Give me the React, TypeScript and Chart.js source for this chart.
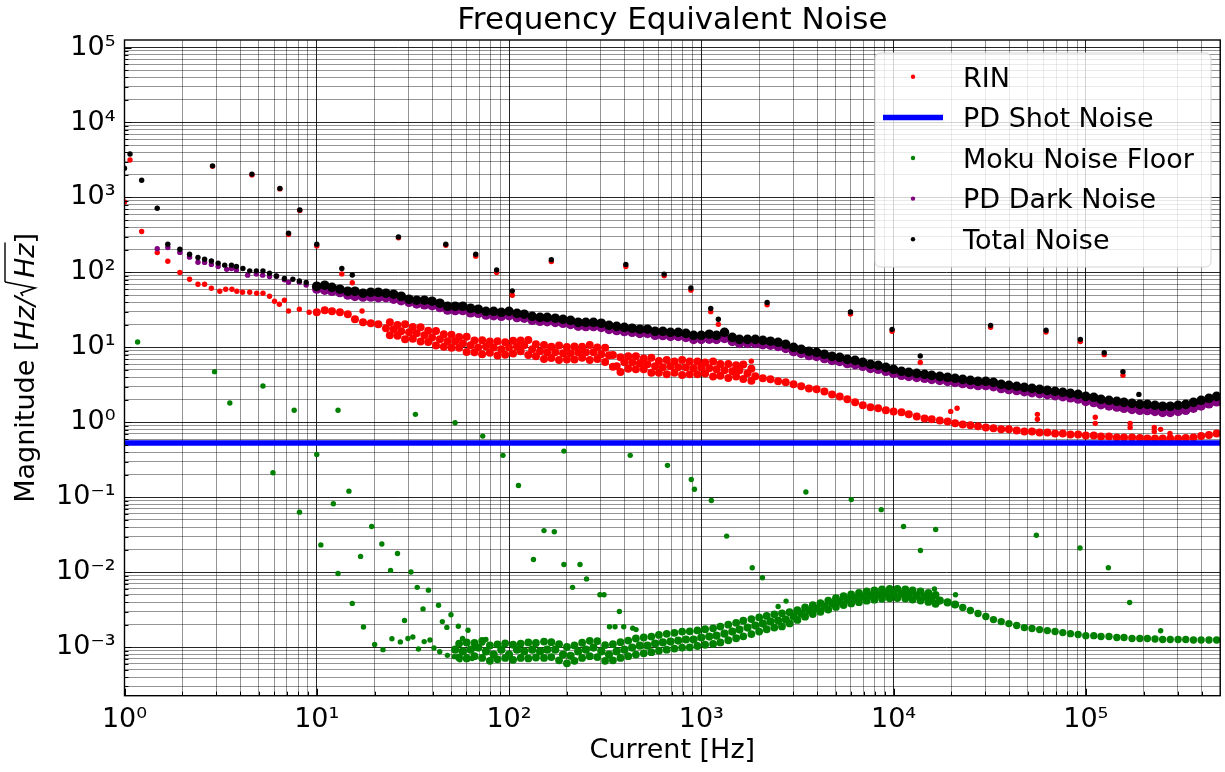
import React, { useEffect, useRef } from 'react';
import { Chart, registerables } from 'chart.js';

Chart.register(...registerables);

const W = 1225;
const H = 772;

const TITLE = 'Frequency Equivalent Noise';
const X_LABEL = 'Current [Hz]';
const LEGEND_LABELS = ['RIN', 'PD Shot Noise', 'Moku Noise Floor', 'PD Dark Noise', 'Total Noise'];

const xDecades = [1, 10, 100, 1000, 10000, 100000];
const xTickLabels = ['10⁰', '10¹', '10²', '10³', '10⁴', '10⁵'];
const yDecades = [0.001, 0.01, 0.1, 1, 10, 100, 1000, 10000, 100000];
const yTickLabels = ['10⁻³', '10⁻²', '10⁻¹', '10⁰', '10¹', '10²', '10³', '10⁴', '10⁵'];

// frequency grid of the dense part of the spectra [Hz]
const bandX = [
  10, 11, 12, 13.2, 14.5, 15.8, 17.4, 19.1, 20.9, 22.9, 25.1, 27.5, 30.2, 33.1, 36.3, 39.8, 43.7, 47.9, 52.5, 57.5, 63.1, 69.2, 75.9, 83.2, 91.2,
  100, 110, 120, 132, 145, 158, 174, 191, 209, 229, 251, 275, 302, 331, 363, 398, 437, 479, 525, 575, 631, 692, 759, 832, 912,
  1000, 1100, 1200, 1320, 1450, 1580, 1740, 1910, 2090, 2290, 2510, 2750, 3020, 3310, 3630, 3980, 4370, 4790, 5250, 5750, 6310, 6920, 7590, 8320, 9120,
  10000, 11000, 12000, 13200, 14500, 15800, 17400, 19100, 20900, 22900, 25100, 27500, 30200, 33100, 36300, 39800, 43700, 47900, 52500, 57500, 63100, 69200, 75900, 83200, 91200,
  100000, 110000, 120000, 132000, 145000, 158000, 174000, 191000, 209000, 229000, 251000, 275000, 302000, 331000, 363000, 398000, 437000, 479000,
];

// Total noise
const totalLowX = [1.0, 1.068, 1.228, 1.48, 1.68, 1.94, 2.18, 2.41, 2.61, 2.83, 3.07, 3.32, 3.6, 3.82, 4.13, 4.48, 4.85, 5.25, 5.68, 6.16, 6.79, 7.51, 8.12, 8.81];
const totalLowY = [2450, 3800, 1700, 718, 238, 204, 175, 158, 150, 142, 133, 125, 125, 120, 113, 105, 105, 105, 97.6, 89.8, 83.0, 81.1, 77.1, 73.3];
const totalBandY = [
  65.4, 67.5, 63.3, 59.7, 56.1, 56.1, 52.8, 54.4, 54.4, 52.8, 51.2, 48.1, 43.9, 42.6, 42.6, 41.3, 38.8, 35.4, 35.4, 35.4, 33.3, 32.3, 30.3, 30.3, 29.4,
  30.3, 28.5, 27.7, 26.0, 25.2, 25.2, 24.5, 23.7, 23.0, 21.6, 21.6, 21.6, 21.0, 19.7, 19.1, 18.5, 18.0, 17.5, 17.5, 16.4, 16.4, 15.9, 15.9, 15.4, 14.5,
  14.5, 15.0, 14.5, 15.9, 13.6, 12.8, 12.8, 12.8, 12.4, 12.1, 11.7, 11.0, 10.0, 9.44, 8.87, 8.61, 8.09, 7.6, 7.38, 6.93, 6.72, 6.32, 5.95, 5.77, 5.42,
  5.1, 4.8, 4.65, 4.51, 4.38, 4.24, 4.11, 3.99, 3.87, 3.75, 3.64, 3.53, 3.53, 3.42, 3.22, 3.12, 3.03, 2.93, 2.84, 2.76, 2.67, 2.59, 2.52, 2.44, 2.36,
  2.22, 2.16, 2.03, 1.97, 1.91, 1.85, 1.79, 1.74, 1.74, 1.69, 1.64, 1.64, 1.69, 1.74, 1.85, 1.97, 2.09, 2.22,
];
const totalOutX = [2.87, 4.6, 6.43, 7.13, 8.16, 10.0, 13.5, 15.3, 26.6, 46.9, 67.1, 86.2, 104, 166, 405, 641, 883, 1120, 1227, 1330, 2200, 5970, 9830, 13770, 31970, 62100, 93660, 124700, 156000, 188800];
const totalOutY = [2640, 2050, 1320, 334, 682, 238, 113, 92.3, 298, 238, 175, 108, 56.8, 148, 128, 95, 62, 33, 23.7, 16.6, 39.7, 29.6, 17.4, 7.7, 19.7, 16.9, 12.8, 8.5, 4.75, 2.36];

// PD dark noise
const darkLowX = [1.48, 1.68, 1.94, 2.18, 2.41, 2.61, 2.83, 3.07, 3.4, 3.6, 3.82, 4.37, 4.85, 5.23, 5.68, 6.18, 6.79, 7.13, 8.12, 8.81];
const darkLowY = [207, 215, 185, 160, 137, 136, 128, 120, 110, 113, 108, 92, 95, 92, 88, 89, 80, 74, 74, 68];
const darkBandY = [
  60, 58, 56, 54, 50, 48, 47, 47, 46, 46, 44, 42, 40, 38, 37, 36, 34, 31.5, 31, 31, 29, 28.5, 27, 26.5, 26,
  26.5, 25, 24.5, 23, 22.3, 22, 21.5, 21, 20.3, 19.2, 19, 19, 18.5, 17.4, 16.8, 16.3, 15.9, 15.4, 15.4, 14.5, 14.4, 14, 14, 13.6, 12.8,
  12.8, 12.9, 12.8, 13.2, 12, 11.3, 11.3, 11.3, 10.9, 10.7, 10.3, 9.7, 8.8, 8.3, 7.8, 7.6, 7.1, 6.7, 6.5, 6.1, 5.9, 5.6, 5.25, 5.1, 4.8,
  4.5, 4.25, 4.1, 3.98, 3.87, 3.75, 3.63, 3.52, 3.42, 3.3, 3.2, 3.1, 3.1, 3.0, 2.83, 2.74, 2.66, 2.57, 2.49, 2.42, 2.34, 2.27, 2.2, 2.13, 2.05,
  1.9, 1.84, 1.72, 1.66, 1.6, 1.54, 1.49, 1.45, 1.44, 1.4, 1.36, 1.36, 1.4, 1.45, 1.55, 1.66, 1.77, 1.88,
];

// RIN
const rinLowX = [1.0, 1.068, 1.228, 1.48, 1.68, 1.94, 2.18, 2.41, 2.61, 2.83, 3.13, 3.36, 3.62, 3.84, 4.11, 4.48, 4.87, 5.25, 5.68, 6.03, 6.39, 6.79, 7.13, 8.12, 9.13];
const rinLowY = [870, 3160, 352, 184, 141, 100, 81.1, 69.6, 69.6, 61.5, 56.1, 59.7, 59.7, 56.1, 54.4, 54.4, 52.8, 52.8, 48.1, 41.3, 37.6, 42.6, 30.6, 32.3, 29.4];
const rinBandY = [
  29.4, 31.3, 30.3, 29.4, 27.7, 23.7, 21.6, 21.0, 20.3, 18.0, 17.5, 16.4, 15.9, 15.4, 14.5, 13.6, 12.8, 12.1, 12.1, 11.3, 10.7, 10.0, 10.3, 10.0, 9.44,
  10.0, 10.3, 10.7, 9.44, 8.87, 8.61, 8.61, 8.34, 8.34, 8.61, 8.61, 8.61, 8.09, 7.85, 5.59, 6.32, 6.32, 6.13, 5.95, 5.59, 5.42, 5.59, 5.42, 5.42, 5.26,
  5.42, 5.26, 5.1, 4.95, 4.8, 4.95, 4.51, 4.11, 3.87, 3.75, 3.53, 3.42, 3.22, 3.03, 2.84, 2.76, 2.59, 2.36, 2.22, 2.03, 1.85, 1.69, 1.59, 1.54, 1.45,
  1.4, 1.36, 1.28, 1.2, 1.13, 1.1, 1.06, 1.03, 0.97, 0.94, 0.912, 0.885, 0.857, 0.832, 0.807, 0.807, 0.782, 0.758, 0.758, 0.735, 0.735, 0.713, 0.713, 0.691, 0.691,
  0.67, 0.67, 0.65, 0.65, 0.63, 0.63, 0.63, 0.62, 0.611, 0.611, 0.611, 0.611, 0.611, 0.62, 0.63, 0.66, 0.68, 0.713,
];
// upper / lower edge of the noisy RIN band (frequencies between the grid points)
const rinNoiseX = [
  24.0, 26.3, 28.8, 31.6, 34.7, 38.0, 41.7, 45.8, 50.2, 55.0, 60.2, 66.1, 72.5, 79.5, 87.1, 95.5,
  105, 115, 126, 138, 152, 166, 182, 200, 219, 240, 263, 288, 316, 347, 380, 417, 457, 502, 550, 602, 661, 725, 795, 871, 955,
  1047, 1152, 1257, 1382, 1518, 1654, 1822,
];
const rinNoiseHiY = [
  21.6, 19.9, 20.3, 18.7, 18.5, 16.7, 16.5, 15.0, 14.8, 13.8, 13.9, 12.4, 12.5, 12.0, 12.1, 11.7,
  12.3, 12.4, 12.6, 11.0, 10.8, 10.2, 10.6, 10.1, 10.3, 10.2, 10.8, 10.0, 9.9, 7.9, 7.4, 7.6, 7.6, 7.1, 7.3, 6.6, 6.8, 6.5, 6.8, 6.5, 6.5,
  6.3, 6.5, 6.0, 6.0, 5.8, 5.9, 5.2,
];
const rinNoiseLoY = [
  14.5, 14.3, 12.8, 13.0, 12.0, 11.8, 10.6, 10.2, 9.9, 9.9, 8.7, 8.6, 8.1, 8.5, 7.8, 8.0,
  8.3, 8.9, 7.9, 7.6, 7.0, 7.2, 6.8, 6.9, 6.9, 7.3, 6.8, 7.0, 6.4, 5.5, 4.7, 5.2, 5.1, 5.1, 4.6, 4.6, 4.4, 4.6, 4.3, 4.4, 4.4,
  4.5, 4.1, 4.2, 3.9, 4.1, 3.8, 3.6,
];
const rinOutX = [2.87, 4.6, 6.43, 7.13, 8.16, 10.0, 13.5, 15.3, 17.2, 26.6, 46.9, 67.1, 86.2, 104, 166, 405, 641, 883, 1120, 1227, 1820, 2200, 5970, 9830, 13770, 19830, 21400, 31970, 56000, 56000, 62100, 93660, 112000, 112000, 124700, 156000, 170000, 170000, 227000, 227000, 245000, 274000];
const rinOutY = [2600, 2000, 1300, 320, 670, 226, 95.6, 73, 30.6, 290, 230, 165, 100, 49.6, 140, 120, 90, 58, 30, 20.3, 6.56, 37, 28, 16.4, 6.3, 1.4, 1.54, 18.5, 1.28, 1.1, 16, 12, 1.17, 0.97, 8, 4.24, 0.97, 0.857, 0.857, 0.758, 0.807, 0.713];

// Moku noise floor, band on bandX[18..]
const mokuBandY = [
  0.00093, 0.00088, 0.00093, 0.00099, 0.00088, 0.0008, 0.00093,
  0.0008, 0.00093, 0.00088, 0.00093, 0.00088, 0.00093, 0.00093, 0.0008, 0.00077, 0.00088, 0.00093, 0.00099, 0.00088, 0.0008, 0.00088, 0.00093, 0.00099, 0.00105, 0.00105, 0.00112, 0.00116, 0.00119, 0.00123, 0.00127, 0.00127,
  0.00135, 0.00139, 0.00143, 0.00152, 0.00162, 0.00172, 0.00183, 0.00195, 0.00207, 0.0022, 0.00227, 0.00234, 0.00257, 0.00282, 0.00309, 0.00329, 0.00349, 0.00383, 0.00407, 0.00434, 0.00447, 0.00475, 0.0049, 0.00506, 0.00521,
  0.00521, 0.00521, 0.00506, 0.0049, 0.00475, 0.00447, 0.0042, 0.00396, 0.00372, 0.00339, 0.00309, 0.00282, 0.00257, 0.00234, 0.0022, 0.00207, 0.00195, 0.00183, 0.00178, 0.00172, 0.00167, 0.00162, 0.00157, 0.00152, 0.00148,
  0.00143, 0.00143, 0.00139, 0.00139, 0.00135, 0.00135, 0.00131, 0.00131, 0.00131, 0.00129, 0.00127, 0.00127, 0.00127, 0.00127, 0.00125, 0.00125, 0.00125, 0.00125,
];
// upper / lower edge of the Moku band (frequencies between the grid points)
const mokuNoiseX = [
  55.0, 60.2, 66.1, 72.5, 79.5, 87.1, 95.5,
  105, 115, 126, 138, 152, 166, 182, 200, 219, 240, 263, 288, 316, 347, 380, 417, 457, 502, 550, 602, 661, 725, 795, 871, 955,
  1047, 1152, 1257, 1382, 1518, 1654, 1822, 2000, 2188, 2398, 2628, 2879, 3162, 3466, 3801, 4167, 4575, 5015, 5497, 6020, 6607, 7245, 7947, 8711, 9549,
  10470, 11520, 12560, 13820, 15180, 16540,
];
const mokuNoiseHiY = [
  0.00112, 0.00116, 0.00114, 0.00122, 0.00106, 0.00109, 0.00113,
  0.00108, 0.00112, 0.00116, 0.00114, 0.00119, 0.00117, 0.0011, 0.00101, 0.00106, 0.00115, 0.00122, 0.00121, 0.00107, 0.0011, 0.00117, 0.00123, 0.00131, 0.00135, 0.00139, 0.00146, 0.00151, 0.00156, 0.00162, 0.00163, 0.00168,
  0.00174, 0.00179, 0.00189, 0.002, 0.00212, 0.00226, 0.00238, 0.0025, 0.00262, 0.00275, 0.00284, 0.00294, 0.00312, 0.0034, 0.00366, 0.00389, 0.0042, 0.00452, 0.00482, 0.00508, 0.0053, 0.00555, 0.00575, 0.00592, 0.006,
  0.00602, 0.00592, 0.00575, 0.00556, 0.00532, 0.005,
];
const mokuNoiseLoY = [
  0.00073, 0.00071, 0.00076, 0.00072, 0.00066, 0.00069, 0.00072,
  0.00068, 0.00072, 0.00071, 0.00073, 0.00072, 0.00074, 0.00067, 0.00061, 0.00066, 0.00072, 0.00076, 0.00074, 0.00066, 0.00067, 0.00072, 0.00076, 0.0008, 0.00083, 0.00086, 0.0009, 0.00093, 0.00096, 0.00099, 0.001, 0.00104,
  0.00108, 0.00111, 0.00116, 0.00124, 0.00132, 0.0014, 0.0015, 0.00162, 0.00174, 0.00183, 0.0019, 0.00208, 0.00232, 0.00256, 0.00278, 0.00297, 0.00318, 0.00345, 0.00366, 0.00384, 0.004, 0.00418, 0.00432, 0.00445, 0.00452,
  0.00454, 0.00447, 0.00434, 0.00421, 0.00403, 0.0038,
];
const mokuScatterX = [1.17, 2.94, 3.53, 5.25, 5.92, 7.63, 8.13, 10.0, 10.5, 12.2, 12.9, 12.9, 14.7, 15.3, 16.9, 17.5, 19.3, 20.0, 21.8, 22.1, 24.2, 24.6, 26.3, 27.2, 28.6, 29.8, 30.9, 31.6, 32.6, 33.3, 33.8, 35.7, 36.2, 38.1, 38.8, 40.7, 43.0, 43.6, 45.0, 47.5, 47.8, 49.9, 51.9, 52.4, 54.5, 55.5, 57.3, 60.6, 61.2, 64.3, 66.8, 72.8, 73.0, 75.8, 93, 112, 134, 152, 172, 193, 193, 214, 234, 253, 297, 312, 333, 356, 375, 395, 427, 440, 458, 667, 887, 921, 1128, 1355, 1841, 2080, 2510, 2760, 3500, 6030, 8630, 11270, 13800, 16320, 16560, 21000, 55300, 93300, 131000, 169000, 245000];
const mokuScatterY = [11.8, 4.75, 1.81, 3.05, 0.2125, 1.45, 0.0635, 0.374, 0.0232, 0.082, 1.45, 0.00963, 0.121, 0.00385, 0.0163, 0.00186, 0.0408, 0.00109, 0.0239, 0.00093, 0.0106, 0.0013, 0.0178, 0.00118, 0.00228, 0.00131, 0.0101, 0.00137, 1.28, 0.0063, 0.00095, 0.00325, 0.00119, 0.00578, 0.00125, 0.00098, 0.00364, 0.00087, 0.0022, 0.00184, 0.00078, 0.00272, 0.00075, 0.99, 0.00191, 0.00068, 0.00131, 0.00075, 0.00169, 0.00071, 0.00098, 0.00114, 0.656, 0.00127, 0.363, 0.144, 0.0148, 0.036, 0.0347, 0.414, 0.0127, 0.0063, 0.0127, 0.00817, 0.00503, 0.00503, 0.00188, 0.00188, 0.003, 0.00188, 0.363, 0.0018, 0.00172, 0.267, 0.173, 0.128, 0.0907, 0.0304, 0.0115, 0.00845, 0.0035, 0.00413, 0.1176, 0.0933, 0.0685, 0.0408, 0.0195, 0.00601, 0.0372, 0.00503, 0.0312, 0.0211, 0.0115, 0.00395, 0.00166];

// PD shot noise (flat)
const shotX = [1, 500000];
const shotY = [0.53, 0.53];

const COLORS = { rin: '#ff0000', shot: '#0000ff', moku: '#008000', dark: '#800080', total: '#000000' };

const pts = (xs: number[], ys: number[]) => xs.map((x, i) => ({ x, y: ys[i] }));
const sizes = (n: number, r: number) => new Array(n).fill(r);

const isDecade = (v: number) => {
  const l = Math.log10(v);
  return Math.abs(l - Math.round(l)) < 1e-6;
};

const logTicks = (lo: number, hi: number) => {
  const out: { value: number }[] = [];
  for (let e = Math.floor(Math.log10(lo)); e <= Math.ceil(Math.log10(hi)); e++) {
    for (let m = 1; m <= 9; m++) {
      const v = m * Math.pow(10, e);
      if (v >= lo * 0.9999 && v <= hi * 1.0001) out.push({ value: v });
    }
  }
  return out;
};

const labelFrom = (decades: number[], labels: string[]) => (v: number) => {
  for (let i = 0; i < decades.length; i++) {
    if (Math.abs(v / decades[i] - 1) < 1e-6) return labels[i];
  }
  return '';
};

const FONT = '"DejaVu Sans", "Liberation Sans", sans-serif';
const MAJOR_GRID = 'rgba(0,0,0,0.85)';
const MINOR_GRID = 'rgba(0,0,0,0.42)';

const decorPlugin = {
  id: 'decor',
  beforeDraw(chart: any) {
    const ctx = chart.ctx;
    ctx.save();
    ctx.fillStyle = '#ffffff';
    ctx.fillRect(0, 0, chart.width, chart.height);
    ctx.restore();
  },
  afterDraw(chart: any) {
    const ctx = chart.ctx as CanvasRenderingContext2D;
    const a = chart.chartArea;
    const xs = chart.scales.x;
    const ys = chart.scales.y;
    ctx.save();

    // inward ticks
    ctx.strokeStyle = '#000';
    ctx.lineWidth = 1;
    xs.ticks.forEach((t: any) => {
      const px = Math.round(xs.getPixelForValue(t.value)) + 0.5;
      const len = isDecade(t.value) ? 7 : 4;
      ctx.beginPath();
      ctx.moveTo(px, a.bottom);
      ctx.lineTo(px, a.bottom - len);
      ctx.stroke();
    });
    ys.ticks.forEach((t: any) => {
      const py = Math.round(ys.getPixelForValue(t.value)) + 0.5;
      const len = isDecade(t.value) ? 7 : 4;
      ctx.beginPath();
      ctx.moveTo(a.left, py);
      ctx.lineTo(a.left + len, py);
      ctx.stroke();
    });

    // frame
    ctx.lineWidth = 1.4;
    ctx.strokeRect(a.left, a.top, a.right - a.left, a.bottom - a.top);

    // title
    ctx.fillStyle = '#000';
    ctx.textAlign = 'center';
    ctx.textBaseline = 'alphabetic';
    ctx.font = `31px ${FONT}`;
    ctx.fillText(TITLE, (a.left + a.right) / 2, 29);

    // x label
    ctx.font = `27px ${FONT}`;
    ctx.fillText(X_LABEL, (a.left + a.right) / 2, 758);

    // y label: Magnitude [Hz/sqrt(Hz)]
    const reg = `27px ${FONT}`;
    const ita = `italic 27px ${FONT}`;
    const parts: { t: string; f: string; kind?: string }[] = [
      { t: 'Magnitude [', f: reg },
      { t: 'Hz/', f: ita },
      { t: '', f: reg, kind: 'sqrt' },
      { t: 'Hz', f: ita, kind: 'over' },
      { t: ']', f: reg },
    ];
    const radW = 19;
    let total = 0;
    const widths = parts.map((p) => {
      ctx.font = p.f;
      const w = p.kind === 'sqrt' ? radW : ctx.measureText(p.t).width;
      total += w;
      return w;
    });
    ctx.save();
    ctx.translate(34, (a.top + a.bottom) / 2);
    ctx.rotate(-Math.PI / 2);
    ctx.textAlign = 'left';
    let cx = -total / 2;
    let overStart = 0;
    parts.forEach((p, i) => {
      ctx.font = p.f;
      if (p.kind === 'sqrt') {
        overStart = cx + 15;
        ctx.lineWidth = 1.6;
        ctx.beginPath();
        ctx.moveTo(cx + 1, -11);
        ctx.lineTo(cx + 4, -13);
        ctx.lineTo(cx + 9, 1);
        ctx.lineTo(cx + 15, -29);
        ctx.stroke();
      } else {
        ctx.fillText(p.t, cx, 0);
      }
      if (p.kind === 'over') {
        ctx.lineWidth = 1.4;
        ctx.beginPath();
        ctx.moveTo(overStart, -29);
        ctx.lineTo(cx + widths[i] + 1, -29);
        ctx.stroke();
      }
      cx += widths[i];
    });
    ctx.restore();

    // legend
    const bx = 875, by = 53, bw = 336, bh = 214, r = 6;
    ctx.beginPath();
    ctx.moveTo(bx + r, by);
    ctx.lineTo(bx + bw - r, by);
    ctx.quadraticCurveTo(bx + bw, by, bx + bw, by + r);
    ctx.lineTo(bx + bw, by + bh - r);
    ctx.quadraticCurveTo(bx + bw, by + bh, bx + bw - r, by + bh);
    ctx.lineTo(bx + r, by + bh);
    ctx.quadraticCurveTo(bx, by + bh, bx, by + bh - r);
    ctx.lineTo(bx, by + r);
    ctx.quadraticCurveTo(bx, by, bx + r, by);
    ctx.closePath();
    ctx.fillStyle = 'rgba(255,255,255,0.8)';
    ctx.fill();
    ctx.strokeStyle = '#d4d4d4';
    ctx.lineWidth = 1;
    ctx.stroke();

    const legendColors = [COLORS.rin, COLORS.shot, COLORS.moku, COLORS.dark, COLORS.total];
    ctx.font = `27px ${FONT}`;
    ctx.textAlign = 'left';
    ctx.textBaseline = 'alphabetic';
    LEGEND_LABELS.forEach((lab, i) => {
      const base = 86.6 + 40.6 * i;
      const my = base - 9.8;
      if (i === 1) {
        ctx.strokeStyle = legendColors[i];
        ctx.lineWidth = 5.5;
        ctx.beginPath();
        ctx.moveTo(883, my);
        ctx.lineTo(943, my);
        ctx.stroke();
      } else {
        ctx.fillStyle = legendColors[i];
        ctx.beginPath();
        ctx.arc(913, my, 2.2, 0, Math.PI * 2);
        ctx.fill();
      }
      ctx.fillStyle = '#000';
      ctx.fillText(lab, 963, base);
    });

    ctx.restore();
  },
};

export default function App() {
  const ref = useRef<HTMLCanvasElement | null>(null);

  useEffect(() => {
    const canvas = ref.current;
    if (!canvas) return;

    const rinData = [
      ...pts(rinLowX, rinLowY),
      ...pts(bandX, rinBandY),
      ...pts(rinNoiseX, rinNoiseHiY),
      ...pts(rinNoiseX, rinNoiseLoY),
      ...pts(rinOutX, rinOutY),
    ];
    const rinR = [
      ...sizes(rinLowX.length, 2.7),
      ...sizes(bandX.length, 4.0),
      ...sizes(rinNoiseHiY.length, 4.0),
      ...sizes(rinNoiseLoY.length, 4.0),
      ...sizes(rinOutX.length, 2.7),
    ];
    const mokuData = [
      ...pts(bandX.slice(18), mokuBandY),
      ...pts(mokuNoiseX, mokuNoiseHiY),
      ...pts(mokuNoiseX, mokuNoiseLoY),
      ...pts(mokuScatterX, mokuScatterY),
    ];
    const mokuR = [
      ...sizes(66, 4.1),
      ...sizes(mokuBandY.length - 66, 3.7),
      ...sizes(mokuNoiseHiY.length, 3.9),
      ...sizes(mokuNoiseLoY.length, 3.9),
      ...sizes(mokuScatterX.length, 2.7),
    ];
    const darkData = [...pts(darkLowX, darkLowY), ...pts(bandX, darkBandY)];
    const darkR = [...sizes(darkLowX.length, 2.7), ...sizes(bandX.length, 4.8)];
    const totalData = [...pts(totalLowX, totalLowY), ...pts(bandX, totalBandY), ...pts(totalOutX, totalOutY)];
    const totalR = [...sizes(totalLowX.length, 2.7), ...sizes(bandX.length, 4.8), ...sizes(totalOutX.length, 2.7)];

    const scatterBase = { showLine: false, pointBorderWidth: 0, clip: 0 };

    const chart = new Chart(canvas, {
      type: 'scatter',
      data: {
        datasets: [
          { ...scatterBase, label: LEGEND_LABELS[0], data: rinData, pointRadius: rinR, pointBackgroundColor: COLORS.rin, pointBorderColor: COLORS.rin, order: 5 },
          { label: LEGEND_LABELS[1], data: pts(shotX, shotY), showLine: true, borderColor: COLORS.shot, borderWidth: 5.5, pointRadius: 0, clip: 0, order: 4 },
          { ...scatterBase, label: LEGEND_LABELS[2], data: mokuData, pointRadius: mokuR, pointBackgroundColor: COLORS.moku, pointBorderColor: COLORS.moku, order: 3 },
          { ...scatterBase, label: LEGEND_LABELS[3], data: darkData, pointRadius: darkR, pointBackgroundColor: COLORS.dark, pointBorderColor: COLORS.dark, order: 2 },
          { ...scatterBase, label: LEGEND_LABELS[4], data: totalData, pointRadius: totalR, pointBackgroundColor: COLORS.total, pointBorderColor: COLORS.total, order: 1 },
        ] as any,
      },
      options: {
        responsive: false,
        animation: false,
        devicePixelRatio: 1,
        events: [],
        layout: { padding: { top: 40, right: 2, bottom: 0, left: 0 } },
        plugins: { legend: { display: false }, title: { display: false }, tooltip: { enabled: false } },
        scales: {
          x: {
            type: 'logarithmic',
            position: 'bottom',
            min: 1,
            max: 500000,
            afterBuildTicks: (scale: any) => {
              scale.ticks = logTicks(1, 500000);
            },
            afterFit: (scale: any) => {
              scale.height = 76.3;
              scale.paddingLeft = 0;
              scale.paddingRight = 0;
            },
            ticks: {
              autoSkip: false,
              maxRotation: 0,
              minRotation: 0,
              padding: 7.6,
              color: '#000',
              font: { family: FONT, size: 27 },
              callback: (v: any) => labelFrom(xDecades, xTickLabels)(Number(v)),
            },
            grid: {
              drawTicks: false,
              color: (c: any) => (c.tick && isDecade(c.tick.value) ? MAJOR_GRID : MINOR_GRID),
              lineWidth: 1,
            },
            border: { display: false },
          },
          y: {
            type: 'logarithmic',
            position: 'left',
            min: 2.26e-4,
            max: 1.26e5,
            afterBuildTicks: (scale: any) => {
              scale.ticks = logTicks(2.26e-4, 1.26e5);
            },
            afterFit: (scale: any) => {
              scale.width = 124.5;
              scale.paddingTop = 0;
              scale.paddingBottom = 0;
            },
            ticks: {
              autoSkip: false,
              padding: 9,
              color: '#000',
              font: { family: FONT, size: 27 },
              callback: (v: any) => labelFrom(yDecades, yTickLabels)(Number(v)),
            },
            grid: {
              drawTicks: false,
              color: (c: any) => (c.tick && isDecade(c.tick.value) ? MAJOR_GRID : MINOR_GRID),
              lineWidth: 1,
            },
            border: { display: false },
          },
        },
      } as any,
      plugins: [decorPlugin],
    });

    return () => chart.destroy();
  }, []);

  return (
    <div style={{ position: 'absolute', left: 0, top: 0, width: W, height: H, background: '#fff' }}>
      <canvas ref={ref} width={W} height={H} style={{ display: 'block', width: W, height: H }} />
    </div>
  );
}
